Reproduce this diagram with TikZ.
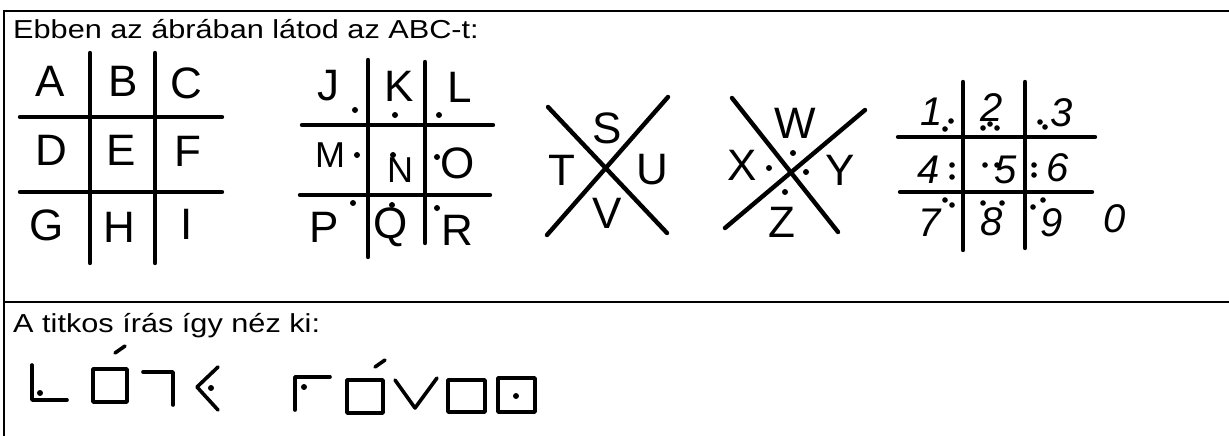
\documentclass[tikz,border=0pt]{standalone}
\usepackage{fontspec}
\setmainfont{Liberation Sans}[FakeStretch=1.18]
\newfontfamily\hand{Liberation Sans}
\usetikzlibrary{positioning}

\tikzset{
  frame/.style={line width=2.6pt},
  gridline/.style={line width=4.4pt,line cap=round},
  letter/.style={inner sep=0pt,font=\hand\fontsize{44}{44}\selectfont},
  smallletter/.style={inner sep=0pt,font=\hand\fontsize{36}{36}\selectfont},
  digit/.style={inner sep=0pt,font=\hand\itshape\fontsize{40}{40}\selectfont},
  caption/.style={anchor=base west,inner sep=0pt,font=\fontsize{26}{30}\selectfont},
  cipher/.style={line width=3.6pt,line cap=round,line join=round}
}

\begin{document}
\begin{tikzpicture}[x=1pt,y=-1pt]
\useasboundingbox (0,0) rectangle (1229,436);
\draw[frame] (4,436) -- (4,11) -- (1229,11);
\draw[frame] (4,302) -- (1229,302);
\node[caption] (title) at (13,39) {Ebben az ábrában látod az ABC-t:};
\node[caption] (secret) at (13,332) {A titkos írás így néz ki:};

\draw[gridline] (90,53) -- (90,263);
\draw[gridline] (155,53) -- (155,263);
\draw[gridline] (20,117) -- (222,117);
\draw[gridline] (20,192) -- (222,192);
\node[letter] (A) at (50,81) {A};
\node[letter] (B) at (123,81) {B};
\node[letter] (C) at (186,83) {C};
\node[letter] (D) at (51,150) {D};
\node[letter] (E) at (121,150) {E};
\node[letter] (F) at (188,151) {F};
\node[letter] (G) at (47,225) {G};
\node[letter] (H) at (119,227) {H};
\node[letter] (I) at (187,224) {I};

\draw[gridline] (368,60) -- (368,257);
\draw[gridline] (425,62) -- (425,243);
\draw[gridline] (302,125) -- (493,125);
\draw[gridline] (300,195) -- (490,195);
\node[letter] (J) at (328,86) {J};
\node[letter] (K) at (399,86) {K};
\node[letter] (L) at (460,87) {L};
\node[smallletter] (M) at (330,155) {M};
\node[smallletter] (N) at (400,170) {N};
\node[letter] (O) at (458,163) {O};
\node[letter] (P) at (324,227) {P};
\node[letter] (Q) at (391,227) {Q};
\node[letter] (R) at (457,230) {R};
\foreach \p in {(355,110),(395,115),(439,115),(357,155),(393,155),(437,157),(353,203),(392,205),(437,208)}
  \fill \p circle (3);

\draw[gridline] (548,107) -- (667,233);
\draw[gridline] (547,235) -- (668,97);
\node[letter] (S) at (607,128) {S};
\node[letter] (T) at (562,170) {T};
\node[letter] (U) at (652,170) {U};
\node[letter] (V) at (607,213) {V};

\draw[gridline] (732,98) -- (838,232);
\draw[gridline] (725,228) -- (865,110);
\node[letter] (W) at (795,123) {W};
\node[letter] (X) at (742,165) {X};
\node[letter] (Y) at (840,170) {Y};
\node[letter] (Z) at (782,222) {Z};
\foreach \p in {(793,153),(769,168),(806,172),(785,192)}
  \fill \p circle (3);

\draw[gridline] (963,82) -- (963,250);
\draw[gridline] (1025,82) -- (1025,248);
\draw[gridline] (898,137) -- (1095,137);
\draw[gridline] (900,192) -- (1092,192);
\node[digit] (d1) at (932,112) {1};
\node[digit] (d2) at (992,108) {2};
\node[digit] (d3) at (1062,113) {3};
\node[digit] (d4) at (929,170) {4};
\node[digit] (d5) at (1006,170) {5};
\node[digit] (d6) at (1058,168) {6};
\node[digit] (d7) at (930,223) {7};
\node[digit] (d8) at (992,222) {8};
\node[digit] (d9) at (1052,223) {9};
\node[digit] (d0) at (1115,219) {0};
\foreach \p in {(945,129),(951,121),(983,128),(990,124),(997,128),(1040,122),(1045,127),
  (952,165),(952,177),(985,165),(997,165),(1034,165),(1034,175),
  (945,200),(952,205),(983,203),(1002,203),(1033,207),(1043,200)}
  \fill \p circle (2.8);

\draw[cipher] (32,365) -- (32,400) -- (67,400);
\fill (40,393) circle (3);
\draw[cipher] (93,369) rectangle (127,402);
\draw[cipher] (115,353) -- (125,346);
\draw[cipher] (143,372) -- (173,372) -- (173,405);
\draw[cipher] (218,367) -- (197,387) -- (218,410);
\fill (211,388) circle (3);
\draw[cipher] (295,410) -- (295,377) -- (330,377);
\fill (304,387) circle (3);
\draw[cipher] (347,380) rectangle (383,413);
\draw[cipher] (375,367) -- (385,360);
\draw[cipher] (395,380) -- (415,408) -- (437,378);
\draw[cipher] (448,380) rectangle (485,412);
\draw[cipher] (498,378) rectangle (535,412);
\fill (516,396) circle (3);
\end{tikzpicture}
\end{document}
